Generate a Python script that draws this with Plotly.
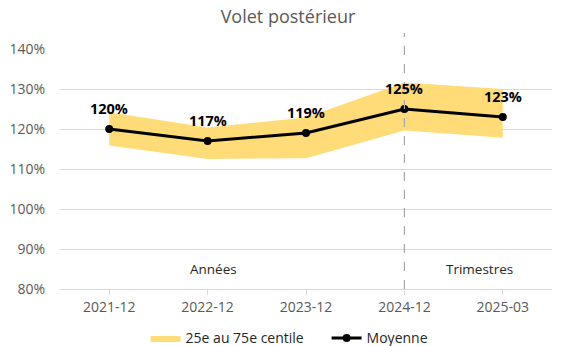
import plotly.graph_objects as go

categories = ["2021-12", "2022-12", "2023-12", "2024-12", "2025-03"]
mean_vals = [1.20, 1.17, 1.19, 1.25, 1.23]
p25_vals = [1.159, 1.125, 1.127, 1.196, 1.178]
p75_vals = [1.242, 1.204, 1.229, 1.316, 1.300]
label_texts = ["120%", "117%", "119%", "125%", "123%"]
y_ticks = [0.8, 0.9, 1.0, 1.1, 1.2, 1.3, 1.4]

FONT = "Open Sans"
GREY = "#595959"
BAND = "#FFDC78"

fig = go.Figure()
fig.add_trace(go.Scatter(
    x=categories, y=p25_vals, mode="lines", line=dict(width=0, color=BAND),
    showlegend=False, hoverinfo="skip"))
fig.add_trace(go.Scatter(
    x=categories, y=p75_vals, mode="lines", line=dict(width=0, color=BAND),
    fill="tonexty", fillcolor=BAND, name="25e au 75e centile"))
fig.add_trace(go.Scatter(
    x=categories, y=mean_vals, mode="lines+markers", name="Moyenne",
    line=dict(color="black", width=3), marker=dict(color="black", size=8)))

for c, v, t in zip(categories, mean_vals, label_texts):
    fig.add_annotation(x=c, y=v, xref="x", yref="y", text=t, showarrow=False,
                       yshift=21, font=dict(family=FONT, size=14.5, color="black", weight="bold"))

fig.add_shape(type="line", xref="x", yref="paper", x0="2024-12", x1="2024-12",
              y0=0, y1=1.067, line=dict(color="#A6A6A6", width=1.2, dash="dash"))

fig.add_annotation(x="2022-12", y=0.85, xref="x", yref="y", text="Années",
                   showarrow=False, xshift=6, font=dict(family=FONT, size=13.5, color="#262626"))
fig.add_annotation(x=3.76, y=0.85, xref="x", yref="y", text="Trimestres",
                   showarrow=False, font=dict(family=FONT, size=13.5, color="#262626"))

fig.update_layout(
    width=568, height=346,
    margin=dict(l=60, r=16, t=49, b=57, autoexpand=False),
    paper_bgcolor="white", plot_bgcolor="white",
    font=dict(family=FONT, size=14, color=GREY),
    title=dict(text="Volet postérieur", x=0.507, xanchor="center", y=0.952, yanchor="middle",
               font=dict(family=FONT, size=18, color=GREY)),
    showlegend=True,
    legend=dict(orientation="h", traceorder="normal", x=0.174, xanchor="left",
                yref="container", y=0.022, yanchor="middle",
                font=dict(family=FONT, size=14, color="#262626"),
                itemwidth=30, entrywidth=136, entrywidthmode="pixels",
                bgcolor="rgba(0,0,0,0)"),
    xaxis=dict(type="category", range=[-0.5, 4.5], showgrid=False,
               showline=True, linecolor="#D9D9D9", linewidth=1,
               ticks="outside", ticklen=5, tickcolor="#D9D9D9",
               tickfont=dict(family=FONT, size=14, color=GREY)),
    yaxis=dict(range=[0.8, 1.4], tickvals=y_ticks, tickformat=".0%",
               showgrid=True, gridcolor="#D9D9D9", gridwidth=1,
               zeroline=False, showline=False, ticks="", ticklabelstandoff=14,
               tickfont=dict(family=FONT, size=14, color=GREY)),
)

fig.write_html("out.html")
